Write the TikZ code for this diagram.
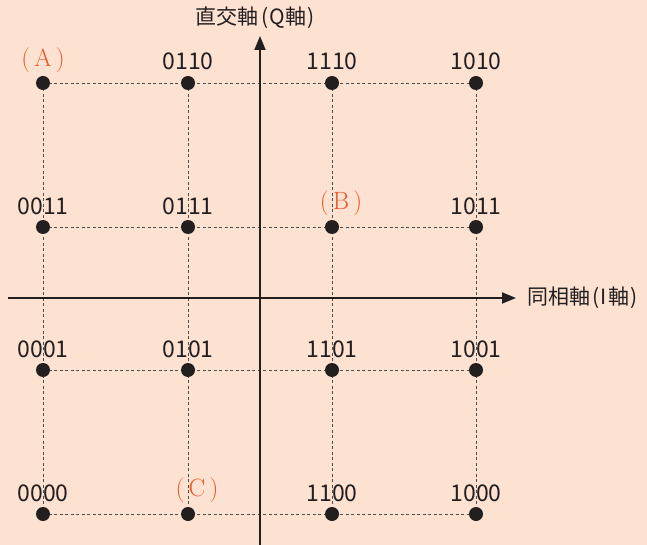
\documentclass[tikz,border=0pt]{standalone}
\usepackage{fontspec}
\newfontfamily\jp{Noto Sans CJK JP}
\usetikzlibrary{arrows.meta}
\definecolor{bg}{HTML}{FDE2D2}
\definecolor{ink}{HTML}{231F20}
\definecolor{lab}{HTML}{F0562A}
\tikzset{
  dot/.style={circle,fill=ink,inner sep=0pt,minimum size=14pt},
  grid/.style={ink!80,line width=0.8pt,dash pattern=on 3pt off 2.5pt},
  axis/.style={ink,line width=1.8pt,-{Triangle[length=14pt,width=11pt]}},
  code/.style={font=\jp\fontsize{23}{23}\selectfont,text=ink,inner sep=0pt},
  pointlab/.style={font=\fontsize{25}{25}\selectfont,text=lab,inner sep=0pt},
  axlab/.style={font=\jp\fontsize{21}{21}\selectfont,text=ink,inner sep=0pt}
}
\begin{document}
\begin{tikzpicture}[x=1pt,y=-1pt]
\fill[bg] (0,0) rectangle (647,545);
\useasboundingbox (0,0) rectangle (647,545);
% dot coordinates
\foreach \i/\x in {1/43,2/188,3/332,4/476}{
  \foreach \j/\y in {1/83,2/227,3/370,4/514}{
    \coordinate (p\i\j) at (\x,\y);
  }
}
% dashed grid
\foreach \i in {1,2,3,4}{
  \draw[grid] (p\i1) -- (p\i4);
  \draw[grid] (p1\i) -- (p4\i);
}
% axes
\coordinate (xs) at (8,298);
\coordinate (xe) at (516,298);
\coordinate (ys) at (260,545);
\coordinate (ye) at (260,36);
\draw[axis] (xs) -- (xe);
\draw[axis] (ys) -- (ye);
\node[axlab,anchor=west] (ilab) at (527,298) {同相軸\hspace{2pt}(\hspace{1.5pt}I\hspace{2pt}軸\hspace{1pt})};
\node[axlab,anchor=west] (qlab) at (195,18) {直交軸\hspace{3pt}(\hspace{1pt}Q\hspace{1pt}軸\hspace{1pt})};
% dots
\foreach \i in {1,2,3,4}{
  \foreach \j in {1,2,3,4}{
    \node[dot] (d\i\j) at (p\i\j) {};
  }
}
% codes
\node[code] (c21) at (188,61) {0110};
\node[code] (c31) at (332,61) {1110};
\node[code] (c41) at (476,61) {1010};
\node[code] (c12) at (43,206) {0011};
\node[code] (c22) at (188,206) {0111};
\node[code] (c42) at (476,206) {1011};
\node[code] (c13) at (43,349) {0001};
\node[code] (c23) at (188,349) {0101};
\node[code] (c33) at (332,349) {1101};
\node[code] (c43) at (476,349) {1001};
\node[code] (c14) at (43,493) {0000};
\node[code] (c34) at (332,493) {1100};
\node[code] (c44) at (476,493) {1000};
% point labels
\node[pointlab] (ma) at (43,60) {(\,A\,)};
\node[pointlab] (mb) at (341,203) {(\,B\,)};
\node[pointlab] (mc) at (197,490) {(\,C\,)};
\end{tikzpicture}
\end{document}
